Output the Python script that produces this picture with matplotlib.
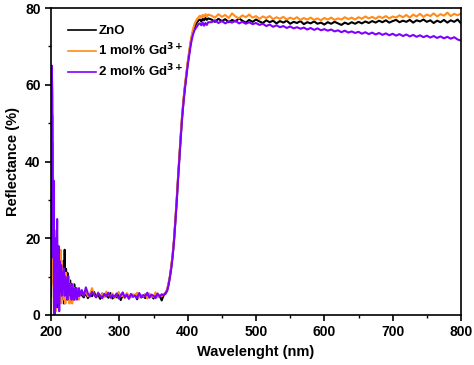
import numpy as np
import matplotlib
matplotlib.use("Agg")
import matplotlib.pyplot as plt
from matplotlib.ticker import MultipleLocator

plt.rcParams['font.family'] = ['Liberation Sans', 'DejaVu Sans']
plt.rcParams['font.weight'] = 'bold'
plt.rcParams['mathtext.default'] = 'bf'

# wavelength grid (nm): dense where the spectra are noisy
wavelength = np.concatenate([
    np.arange(200, 243, 1),
    np.arange(245, 369, 3),
    np.arange(370, 431, 2),
    np.arange(435, 801, 5),
])

# reflectance (%)
zno = [
    2, 30, 45, 10, 25, 0, 18, 3, 20, 2, 14, 4, 15, 5, 16, 4, 12, 6, 14, 3, 17,
    5, 12, 4, 11, 6, 10, 5, 9, 4, 8, 5, 7, 4, 8, 5, 7, 5, 6, 4.5, 6.5, 5, 6,
    5.2, 4.6, 5.8, 4.4, 5.5, 4.9, 6.0, 4.7, 5.3, 4.2, 5.6, 4.8, 5.1, 4.5, 5.7,
    4.3, 5.0, 4.6, 5.4, 3.9, 5.2, 4.7, 5.5, 4.4, 5.0, 4.8, 5.3, 4.1, 5.6, 4.6,
    4.9, 4.4, 5.4, 4.7, 5.1, 4.3, 5.5, 4.8, 5.0, 3.8, 5.3, 5.6,
    6.5, 8, 10, 12.5, 15.5, 19.5, 24.5, 30, 36, 41.5, 47, 52, 56, 59.5, 62.5,
    65.5, 68, 70.5, 72.5, 74, 75, 75.8, 76.3, 76.8, 77, 76.5, 77.2, 76.8, 77.4,
    76.9, 77.3,
    77.0, 76.4, 77.2, 76.6, 77.1, 76.3, 76.9, 76.5, 77.3, 76.7, 76.2, 76.9,
    76.4, 77.0, 76.5, 76.1, 76.8, 76.3, 76.7, 76.0, 76.6, 76.2, 76.7, 75.9,
    76.4, 76.1, 76.6, 75.8, 76.3, 76.0, 76.5, 75.9, 76.2, 75.7, 76.3, 75.9,
    76.4, 76.0, 75.6, 76.2, 75.8, 76.3, 75.9, 76.4, 76.0, 76.5, 76.1, 76.6,
    76.2, 76.7, 76.3, 76.8, 76.2, 76.6, 76.9, 76.3, 76.7, 76.4, 76.9, 76.2,
    76.8, 76.5, 77.0, 76.4, 76.8, 76.1, 76.7, 76.3, 76.9, 76.2, 76.8, 76.4,
    77.0, 76.0,
]

gd1 = [
    0, 20, 52, 8, 32, 2, 22, 1, 18, 4, 15, 3, 13, 6, 17, 3, 14, 5, 12, 4, 10,
    3, 11, 5, 9, 4, 10, 3, 8, 5, 7, 3, 8, 5, 7, 4, 6, 5, 7, 5, 6, 4, 6,
    5.8, 5.1, 6.3, 4.9, 5.4, 7.0, 5.2, 4.6, 5.9, 5.0, 5.5, 4.7, 6.1, 5.2, 4.8,
    5.6, 4.5, 5.3, 6.0, 4.9, 5.1, 4.4, 5.7, 5.0, 4.6, 5.4, 4.9, 5.8, 4.5, 5.2,
    4.8, 5.5, 4.3, 5.6, 5.0, 4.7, 5.9, 4.6, 5.2, 4.9, 5.4, 5.8,
    6.8, 8.3, 10.2, 12.8, 15.8, 19.8, 24.8, 30.5, 36.5, 42, 47.5, 52.5, 56.5,
    60, 63, 66, 68.5, 71, 73, 74.6, 75.8, 76.6, 77.2, 77.6, 78, 77.5, 78.2,
    77.7, 78.4, 77.8, 78.3,
    78.0, 77.5, 78.4, 77.7, 78.2, 77.4, 78.6, 77.8, 77.3, 78.1, 77.6, 78.3,
    77.5, 77.9, 77.2, 77.8, 77.4, 77.9, 77.1, 77.6, 77.2, 77.7, 77.0, 77.5,
    77.1, 77.6, 76.9, 77.4, 77.0, 77.5, 76.9, 77.3, 76.8, 77.4, 77.0, 77.5,
    76.9, 77.3, 77.0, 77.6, 77.1, 77.5, 77.0, 77.6, 77.2, 77.8, 77.3, 77.7,
    77.2, 77.8, 77.4, 77.9, 77.3, 77.8, 77.5, 78.1, 77.6, 78.2, 77.5, 78.3,
    77.8, 78.5, 77.7, 78.3, 77.9, 78.6, 77.8, 78.4, 78.0, 78.8, 77.9, 78.5,
    78.1, 78.6,
]

gd2 = [
    5, 65, 58, 15, 35, 0, 20, 2, 12, 25, 3, 18, 1, 14, 6, 13, 5, 11, 7, 12, 5,
    10, 6, 9, 4, 10, 6, 8, 5, 7, 4, 8, 5, 7, 4, 6, 5, 7, 4, 6, 5, 7, 5,
    6.5, 5.0, 7.2, 5.6, 4.8, 6.0, 5.3, 4.6, 5.7, 5.0, 4.4, 5.5, 4.9, 5.8, 4.5,
    5.2, 4.7, 5.6, 4.3, 5.1, 5.9, 4.6, 5.3, 4.2, 5.5, 4.8, 5.0, 4.4, 5.7, 4.6,
    5.2, 4.9, 5.8, 4.5, 5.3, 5.0, 4.4, 5.6, 4.8, 5.4, 5.1, 5.9,
    6.3, 7.8, 9.8, 12.2, 15.2, 19.2, 24.2, 29.5, 35.5, 41, 46.5, 51.5, 55.5,
    59, 62, 65, 67.5, 69.8, 71.8, 73.2, 74.2, 74.8, 75.3, 75.8, 76, 75.5, 76.2,
    75.4, 76.1, 75.6, 76.3,
    76.3, 76.8, 76.1, 76.6, 76.0, 76.5, 76.2, 76.7, 76.0, 76.4, 75.9, 76.3,
    75.8, 76.1, 75.6, 75.9, 75.3, 75.7, 75.1, 75.5, 75.0, 75.3, 74.8, 75.2,
    74.7, 75.0, 74.6, 74.9, 74.4, 74.8, 74.3, 74.7, 74.2, 74.5, 74.1, 74.4,
    73.9, 74.2, 73.7, 74.1, 73.6, 73.9, 73.5, 73.8, 73.3, 73.7, 73.2, 73.6,
    73.1, 73.5, 73.0, 73.4, 72.9, 73.3, 72.8, 73.2, 72.7, 73.1, 72.6, 73.0,
    72.5, 72.9, 72.4, 72.8, 72.3, 72.7, 72.2, 72.6, 72.1, 72.5, 72.0, 72.4,
    71.8, 71.5,
]

labels = ["ZnO", "1 mol% Gd$^{3+}$", "2 mol% Gd$^{3+}$"]
colors = ["#000000", "#FF8C1A", "#7F00FF"]

fig = plt.figure(figsize=(4.74, 3.65), dpi=100)
ax = fig.add_axes([0.1076, 0.137, 0.865, 0.841])

for series, lab, col in zip([zno, gd1, gd2], labels, colors):
    ax.plot(wavelength, series, color=col, lw=1.5, label=lab)

ax.set_xlim(200, 800)
ax.set_ylim(0, 80)
ax.xaxis.set_major_locator(MultipleLocator(100))
ax.xaxis.set_minor_locator(MultipleLocator(50))
ax.yaxis.set_major_locator(MultipleLocator(20))
ax.yaxis.set_minor_locator(MultipleLocator(10))
ax.tick_params(which='major', direction='out', length=4, width=1.2, labelsize=10)
ax.tick_params(which='minor', direction='out', length=2.5, width=1.0)
for sp in ax.spines.values():
    sp.set_linewidth(1.2)

ax.set_xlabel("Wavelenght (nm)", fontsize=10.5, fontweight='bold')
ax.set_ylabel("Reflectance (%)", fontsize=10.5, fontweight='bold')

leg = ax.legend(loc='upper left', frameon=False, fontsize=9.5, handlelength=2.1,
                handletextpad=0.15, labelspacing=0.35, borderaxespad=0.3,
                bbox_to_anchor=(0.02, 0.975))
for line in leg.get_lines():
    line.set_linewidth(1.2)

fig.savefig("out.png", dpi=100)
